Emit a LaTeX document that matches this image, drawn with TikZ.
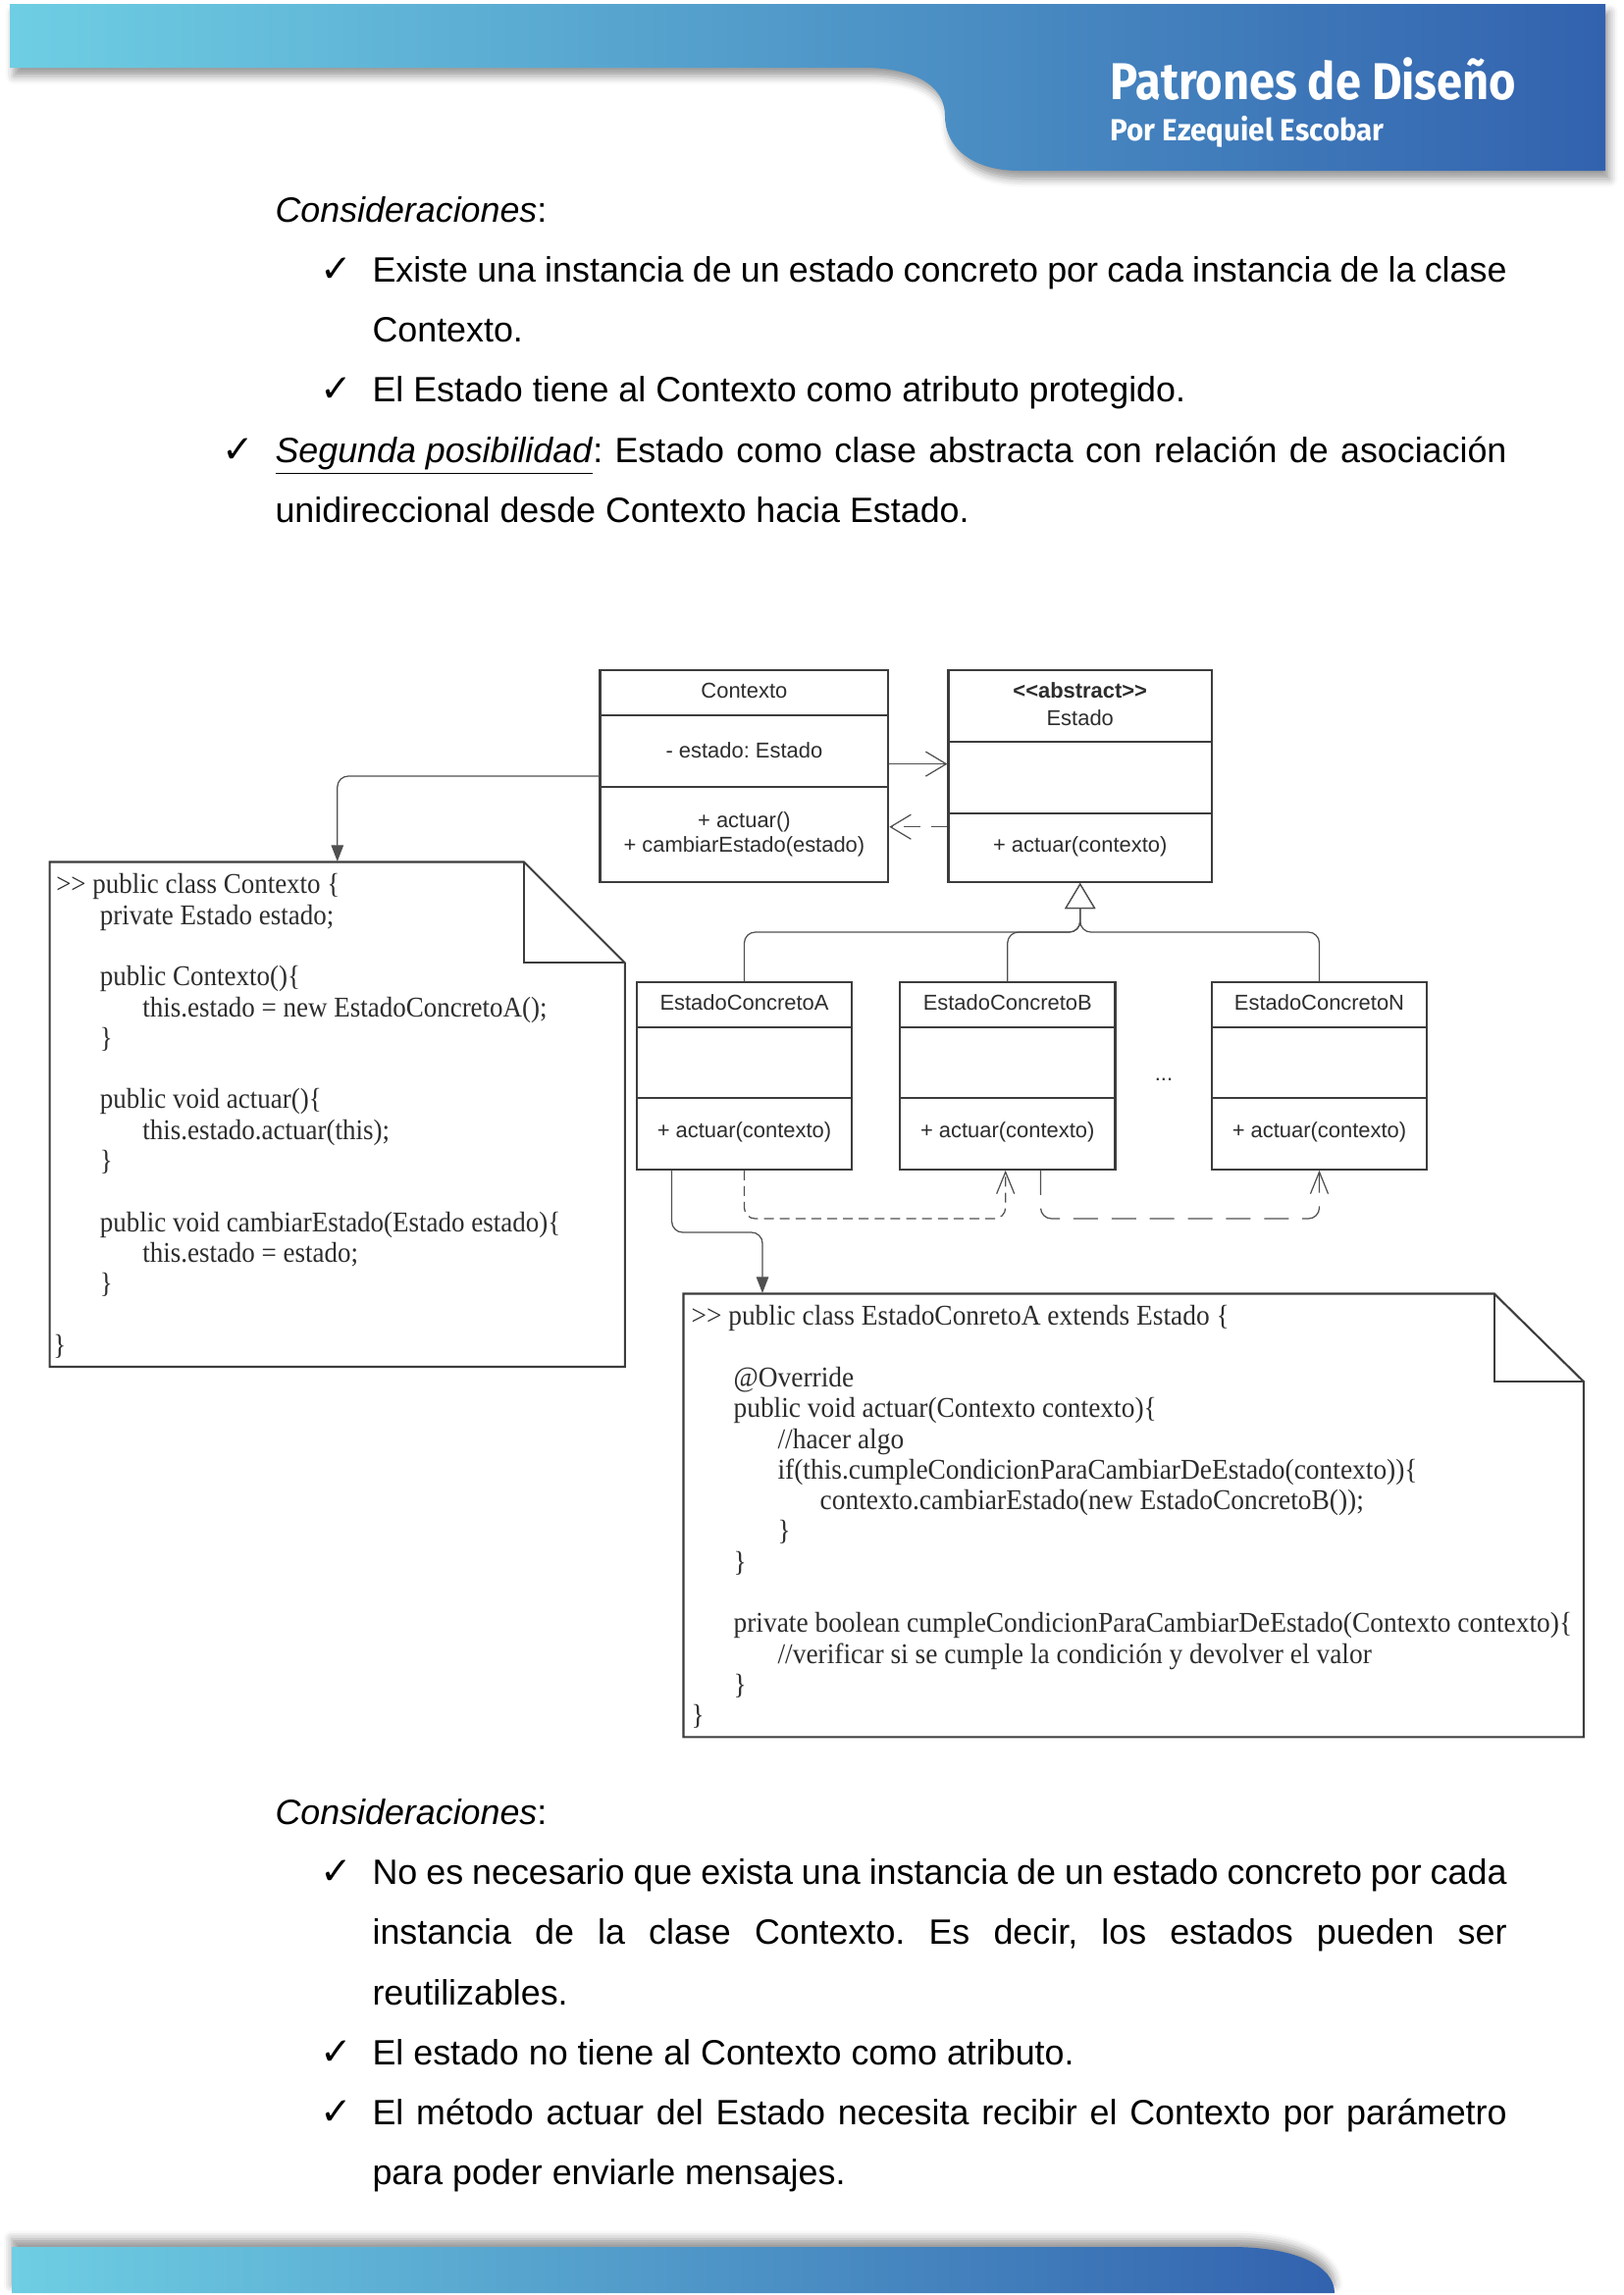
\documentclass[tikz,border=0pt]{standalone}
\usepackage{fontspec}
\setmainfont{Liberation Sans}
\newfontfamily\codefont{Liberation Serif}[FakeStretch=0.925]
\newfontfamily\codefontb{Liberation Serif}[FakeStretch=0.94]
\newfontfamily\titlefont{Fira Sans}[FakeStretch=0.89]
\newfontfamily\subtitlefont{Fira Sans}[FakeStretch=0.95]
\newfontfamily\checkfont{DejaVu Sans}
\usetikzlibrary{arrows.meta,shadows.blur,fit}
\frenchspacing

\definecolor{hdrL}{RGB}{110,206,227}
\definecolor{hdrR}{RGB}{50,98,174}
\definecolor{boxc}{RGB}{60,60,60}
\definecolor{lblc}{RGB}{45,45,45}
\definecolor{linkc}{RGB}{80,80,80}

% a justified line of given width
\newcommand{\jline}[2]{\hbox to #1{#2}}
\newcommand{\dgt}{>\kern0pt>}
\newcommand{\dlt}{<\kern0pt<}

\tikzset{
  umlbox/.style={draw=boxc, line width=0.75pt, inner sep=0pt},
  divider/.style={draw=boxc, line width=0.75pt},
  lbl/.style={font=\fontsize{7.9}{9}\selectfont, text=lblc, inner sep=0pt},
  body/.style={anchor=base west, inner sep=0pt, font=\fontsize{12.9}{22}\selectfont},
  tick/.style={anchor=base, inner sep=0pt, font=\checkfont\fontsize{14}{14}\selectfont},
  code/.style={anchor=north west, inner sep=0pt, align=left, text=lblc,
               font=\codefont\fontsize{10.5}{11.27}\selectfont},
  link/.style={draw=linkc, line width=0.45pt, rounded corners=4pt},
  notebox/.style={draw=boxc, line width=0.75pt, fill=white, line join=miter},
  band/.style={left color=hdrL, right color=hdrR},
}

\begin{document}
\begin{tikzpicture}[x=0.36pt, y=-0.36pt]
\useasboundingbox (0,0) rectangle (1654,2339);

% ---------- header band ----------
\shade[band, blur shadow={shadow xshift=1.5pt, shadow yshift=-3pt, shadow blur radius=3pt, shadow opacity=40}]
  (10,4) -- (1636,4) -- (1636,174) -- (1040,174)
  .. controls (990,174) and (963,150) .. (963,118)
  .. controls (963,86) and (930,69) .. (880,69)
  -- (10,69) -- cycle;
\node[anchor=base west, inner sep=0pt, text=white, font=\titlefont\bfseries\fontsize{19}{19}\selectfont] (title) at (1131,101) {Patrones de Diseño};
\node[anchor=base west, inner sep=0pt, text=white, font=\subtitlefont\bfseries\fontsize{11.2}{11}\selectfont] (author) at (1131,143) {Por Ezequiel Escobar};

% ---------- footer band ----------
\shade[band, blur shadow={shadow xshift=0pt, shadow yshift=3pt, shadow blur radius=3pt, shadow opacity=40}]
  (12,2290) -- (1255,2290) .. controls (1322,2290) and (1360,2310) .. (1360,2337)
  -- (12,2337) -- cycle;

% ---------- text above the diagram ----------
\node[body] (cons1) at (280,226) {\textit{Consideraciones}:};
\node[tick] (t1) at (343,287.5) {✓};
\node[body] (p1a) at (379,287.5) {\jline{416.2pt}{Existe una instancia de un estado concreto por cada instancia de la clase}};
\node[body] (p1b) at (379,348.6) {Contexto.};
\node[tick] (t2) at (343,409.7) {✓};
\node[body] (p2) at (379,409.7) {El Estado tiene al Contexto como atributo protegido.};
\node[tick] (t3) at (243,471) {✓};
\node[body] (p3a) at (280,471) {\jline{451.8pt}{\underline{\textit{Segunda posibilidad}}: Estado como clase abstracta con relación de asociación}};
\node[body] (p3b) at (280,532) {unidireccional desde Contexto hacia Estado.};

% ---------- UML classes ----------
\node[umlbox, fit={(611.5,683) (905.3,899)}] (ctx) {};
\draw[divider] (611.5,729) -- (905.3,729);
\draw[divider] (611.5,802.4) -- (905.3,802.4);
\node[lbl] (ctxname) at (758.4,704) {Contexto};
\node[lbl] (ctxattr) at (758.4,765) {- estado: Estado};
\node[lbl] (ctxop1) at (758.4,838) {+ actuar()};
\node[lbl] (ctxop2) at (758.4,863) {+ cambiarEstado(estado)};

\node[umlbox, fit={(966.5,683) (1235,899)}] (est) {};
\draw[divider] (966.5,756) -- (1235,756);
\draw[divider] (966.5,828.6) -- (1235,828.6);
\node[lbl, font=\bfseries\fontsize{7.9}{9}\selectfont] (eststereo) at (1100.75,704) {\dlt abstract\dgt};
\node[lbl] (estname) at (1100.75,732) {Estado};
\node[lbl] (estop) at (1100.75,863) {+ actuar(contexto)};

\foreach \nm/\xa/\xb/\ttl in {A/649/868/EstadoConcretoA, B/917/1136.5/EstadoConcretoB, N/1235/1454/EstadoConcretoN}{
  \node[umlbox, fit={(\xa,1000.8) (\xb,1191.7)}] (\nm) {};
  \draw[divider] (\xa,1047) -- (\xb,1047);
  \draw[divider] (\xa,1118.6) -- (\xb,1118.6);
  \node[lbl] (\nm name) at ({(\xa+\xb)/2},1022) {\ttl};
  \node[lbl] (\nm op) at ({(\xa+\xb)/2},1154) {+ actuar(contexto)};
}
\node[lbl] (dots) at (1186,1100) {...};

% ---------- code notes ----------
\draw[notebox] (50.7,878.5) -- (534,878.5) -- (636.9,981.4) -- (636.9,1393) -- (50.7,1393) -- cycle;
\draw[notebox, fill=none] (534,878.5) -- (534,981.4) -- (636.9,981.4);
\node[inner sep=0pt, fit={(50.7,878.5) (636.9,1393)}] (note1) {};
\node[code] (note1txt) at (56.7,890) {%
\dgt{} public class Contexto \{\\
\hspace*{16.1pt}private Estado estado;\\[11.27pt]
\hspace*{16.1pt}public Contexto()\{\\
\hspace*{31.7pt}this.estado = new EstadoConcretoA();\\
\hspace*{16.1pt}\}\\[11.27pt]
\hspace*{16.1pt}public void actuar()\{\\
\hspace*{31.7pt}this.estado.actuar(this);\\
\hspace*{16.1pt}\}\\[11.27pt]
\hspace*{16.1pt}public void cambiarEstado(Estado estado)\{\\
\hspace*{31.7pt}this.estado = estado;\\
\hspace*{16.1pt}\}\\[11.27pt]
\hspace*{-1pt}\}};

\draw[notebox] (696.5,1318.5) -- (1522.8,1318.5) -- (1613.8,1408) -- (1613.8,1770.4) -- (696.5,1770.4) -- cycle;
\draw[notebox, fill=none] (1522.8,1318.5) -- (1522.8,1408) -- (1613.8,1408);
\node[inner sep=0pt, fit={(696.5,1318.5) (1613.8,1770.4)}] (note2) {};
\node[code, font=\codefontb\fontsize{10.5}{11.27}\selectfont] (note2txt) at (704,1330) {%
\dgt{} public class EstadoConretoA extends Estado \{\\[11.27pt]
\hspace*{15.5pt}@Override\\
\hspace*{15.5pt}public void actuar(Contexto contexto)\{\\
\hspace*{31.7pt}//hacer algo\\
\hspace*{31.7pt}if(this.cumpleCondicionParaCambiarDeEstado(contexto))\{\\
\hspace*{47.2pt}contexto.cambiarEstado(new EstadoConcretoB());\\
\hspace*{31.7pt}\}\\
\hspace*{15.5pt}\}\\[11.27pt]
\hspace*{15.5pt}private boolean cumpleCondicionParaCambiarDeEstado(Contexto contexto)\{\\
\hspace*{31.7pt}//verificar si se cumple la condición y devolver el valor\\
\hspace*{15.5pt}\}\\
\}};

% ---------- connectors ----------
\coordinate (asc) at (0,778.6);
\coordinate (dsh) at (0,842.7);
\draw[link, -{Straight Barb[length=7.5pt,width=9pt]}] (ctx.east |- asc) -- (est.west |- asc);
\draw[link, dash pattern=on 6pt off 4pt, -{Straight Barb[length=7.5pt,width=9pt]}] (est.west |- dsh) -- (ctx.east |- dsh);

\coordinate (hub) at (1100.75,950);
\foreach \nm in {A,B,N}{
  \draw[link, -{Triangle[open, length=9.4pt, width=11.2pt, fill=white]}] (\nm.north) |- (hub) -- (est.south);
}

\coordinate (d1a) at (758.5,1242);
\coordinate (d1b) at (1024.7,1242);
\draw[link, dash pattern=on 3.6pt off 2.2pt, -{Straight Barb[length=8pt,width=6.5pt]}] (A.south) -- (d1a) -- (d1b) -- (B.south -| d1b);
\coordinate (d2a) at (1060.5,1242);
\coordinate (d2b) at (1344.5,1242);
\draw[link, dash pattern=on 9pt off 5pt, -{Straight Barb[length=8pt,width=6.5pt]}] (B.south -| d2a) -- (d2a) -- (d2b) -- (N.south);

\coordinate (k1) at (684.6,1256);
\coordinate (k2) at (777,1256);
\draw[link, -{Triangle[length=6pt,width=4.5pt]}] (A.south -| k1) -- (k1) -- (k2) -- (note2.north -| k2);
\draw[link, -{Triangle[length=6pt,width=4.5pt]}] (ctx.west) -| (note1.north);

% ---------- text below the diagram ----------
\node[body] (cons2) at (280,1859.5) {\textit{Consideraciones}:};
\node[tick] (t4) at (343,1920.6) {✓};
\node[body] (q1a) at (379,1920.6) {\jline{416.2pt}{No es necesario que exista una instancia de un estado concreto por cada}};
\node[body] (q1b) at (379,1981.8) {\jline{416.2pt}{instancia de la clase Contexto. Es decir, los estados pueden ser}};
\node[body] (q1c) at (379,2043) {reutilizables.};
\node[tick] (t5) at (343,2104) {✓};
\node[body] (q2) at (379,2104) {El estado no tiene al Contexto como atributo.};
\node[tick] (t6) at (343,2165) {✓};
\node[body] (q3a) at (379,2165) {\jline{416.2pt}{El método actuar del Estado necesita recibir el Contexto por parámetro}};
\node[body] (q3b) at (379,2226) {para poder enviarle mensajes.};
\end{tikzpicture}
\end{document}
